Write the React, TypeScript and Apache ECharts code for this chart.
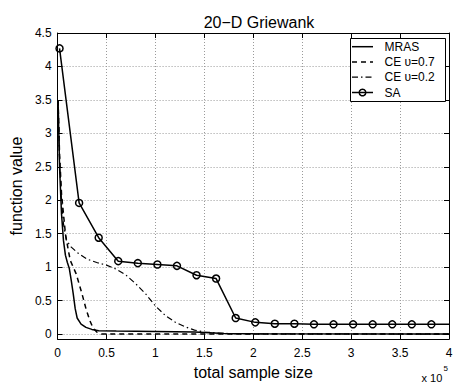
import React, { useEffect, useRef } from "react";
import * as echarts from "echarts";

// x in units of 1e5 samples
const mrasX = [0.005, 0.02, 0.04, 0.06, 0.08, 0.1, 0.12, 0.14, 0.16, 0.18, 0.2, 0.24, 0.29, 0.35, 0.42, 0.6, 1.0, 1.4, 1.7, 2.0, 4.0];
const mrasY = [3.5, 2.5, 1.8, 1.4, 1.18, 1.07, 0.98, 0.8, 0.6, 0.38, 0.24, 0.15, 0.1, 0.07, 0.05, 0.045, 0.04, 0.03, 0.01, 0.005, 0.003];

const ce07X = [0.005, 0.02, 0.04, 0.06, 0.08, 0.11, 0.13, 0.16, 0.19, 0.22, 0.25, 0.29, 0.33, 0.36, 0.4, 0.45, 1.0, 4.0];
const ce07Y = [3.5, 2.7, 2.1, 1.8, 1.5, 1.25, 1.1, 1.0, 0.9, 0.75, 0.6, 0.38, 0.2, 0.1, 0.03, 0.0, 0.0, 0.0];

const ce02X = [0.005, 0.02, 0.04, 0.06, 0.09, 0.14, 0.2, 0.3, 0.4, 0.5, 0.6, 0.7, 0.8, 0.9, 1.0, 1.1, 1.2, 1.3, 1.4, 1.5, 1.7, 2.0, 4.0];
const ce02Y = [3.5, 2.6, 2.0, 1.65, 1.4, 1.3, 1.22, 1.12, 1.07, 1.03, 0.97, 0.88, 0.75, 0.6, 0.42, 0.28, 0.18, 0.11, 0.06, 0.03, 0.01, 0.003, 0.0];

const saX = [0.02, 0.22, 0.42, 0.62, 0.82, 1.02, 1.22, 1.42, 1.62, 1.82, 2.02, 2.22, 2.42, 2.62, 2.82, 3.02, 3.22, 3.42, 3.62, 3.82, 4.0];
const saY = [4.27, 1.96, 1.44, 1.09, 1.06, 1.04, 1.02, 0.88, 0.83, 0.24, 0.175, 0.155, 0.155, 0.146, 0.146, 0.146, 0.146, 0.146, 0.146, 0.146, 0.146];

const yTicks = [0, 0.5, 1, 1.5, 2, 2.5, 3, 3.5, 4, 4.5];
const seriesNames = ["MRAS", "CE \u03c5=0.7", "CE \u03c5=0.2", "SA"];

const FONT = "Liberation Sans, Arial, Helvetica, sans-serif";

const DASH_SOLID: number[] | null = null;
const DASH_CE07 = [5, 4];
const DASH_CE02 = [6, 3, 1.5, 3];
const lineDashes = [DASH_SOLID, DASH_CE07, DASH_CE02, DASH_SOLID];

function zip(xs: number[], ys: number[]) {
  return xs.map((x, i) => [x, ys[i]]);
}

export default function App() {
  const ref = useRef<HTMLDivElement>(null);
  useEffect(() => {
    if (!ref.current) return;
    const chart = echarts.init(ref.current, undefined, { renderer: "svg" });
    const gridLine = { show: true, lineStyle: { color: "#9a9a9a", type: [1, 2], width: 1 } };
    const axisLine = { show: true, onZero: false, lineStyle: { color: "#000", width: 1 } };
    const tick = { show: true, inside: true, length: 5, lineStyle: { color: "#000" } };
    const saData = zip(saX, saY).map((p, i) =>
      i === saX.length - 1 ? { value: p, symbol: "none" } : { value: p }
    );

    // legend drawn as graphic elements
    const legendRows = [46.7, 61.9, 77.2, 92.5];
    const legendEls: any[] = [
      {
        type: "rect",
        shape: { x: 350.5, y: 38.5, width: 95, height: 63 },
        style: { fill: "#fff", stroke: "#000", lineWidth: 1 },
        z: 5,
      },
    ];
    seriesNames.forEach((name, i) => {
      const y = legendRows[i];
      legendEls.push({
        type: "line",
        shape: { x1: 352, y1: y, x2: 373, y2: y },
        style: {
          stroke: "#000",
          lineWidth: i === 2 ? 1.2 : 1.5,
          lineDash: lineDashes[i] || undefined,
        },
        z: 6,
      });
      if (i === 3) {
        legendEls.push({
          type: "circle",
          shape: { cx: 362.5, cy: y, r: 3.3 },
          style: { fill: "none", stroke: "#000", lineWidth: 1.5 },
          z: 7,
        });
      }
      legendEls.push({
        type: "text",
        x: 384.5,
        y,
        style: {
          text: name,
          fontSize: 12,
          fontFamily: FONT,
          fill: "#000",
          verticalAlign: "middle",
          align: "left",
        },
        z: 7,
      });
    });

    chart.setOption({
      animation: false,
      backgroundColor: "#fff",
      textStyle: { fontFamily: FONT },
      title: {
        text: "20\u2212D Griewank",
        left: 254,
        textAlign: "center",
        top: 9,
        textStyle: { fontFamily: FONT, fontSize: 16, fontWeight: "normal", color: "#000" },
      },
      grid: { left: 51, top: 33, width: 398, height: 313.5, containLabel: false },
      xAxis: [
        {
          type: "value",
          min: 0,
          max: 4,
          interval: 0.5,
          position: "bottom",
          axisLine,
          axisTick: tick,
          axisLabel: { color: "#000", fontSize: 12, fontFamily: FONT, margin: 8 },
          splitLine: gridLine,
          name: "total sample size",
          nameLocation: "middle",
          nameGap: 18,
          nameTextStyle: { color: "#000", fontSize: 16, fontFamily: FONT },
        },
        {
          type: "value",
          min: 0,
          max: 4,
          interval: 0.5,
          position: "top",
          axisLine,
          axisTick: tick,
          axisLabel: { show: false },
          splitLine: { show: false },
        },
      ],
      yAxis: [
        {
          type: "value",
          min: -0.075,
          max: 4.5,
          position: "left",
          axisLine,
          axisTick: { ...tick, customValues: yTicks },
          axisLabel: { color: "#000", fontSize: 12, fontFamily: FONT, margin: 6, customValues: yTicks },
          splitLine: gridLine,
          name: "function value",
          nameLocation: "middle",
          nameGap: 27,
          nameTextStyle: { color: "#000", fontSize: 16, fontFamily: FONT },
        },
        {
          type: "value",
          min: -0.075,
          max: 4.5,
          position: "right",
          axisLine,
          axisTick: { ...tick, customValues: yTicks },
          axisLabel: { show: false },
          splitLine: { show: false },
        },
      ],
      graphic: [
        ...legendEls,
        {
          type: "text",
          x: 421.5,
          y: 372,
          style: { text: "x 10", fontSize: 11, fontFamily: FONT, fill: "#000" },
          z: 10,
        },
        {
          type: "text",
          x: 443.5,
          y: 364,
          style: { text: "5", fontSize: 8, fontFamily: FONT, fill: "#000" },
          z: 10,
        },
      ],
      series: [
        {
          name: seriesNames[0],
          type: "line",
          data: zip(mrasX, mrasY),
          showSymbol: false,
          symbol: "none",
          lineStyle: { color: "#000", width: 1.5, type: "solid" },
          itemStyle: { color: "#000" },
        },
        {
          name: seriesNames[1],
          type: "line",
          data: zip(ce07X, ce07Y),
          showSymbol: false,
          symbol: "none",
          lineStyle: { color: "#000", width: 1.5, type: DASH_CE07 },
          itemStyle: { color: "#000" },
        },
        {
          name: seriesNames[2],
          type: "line",
          data: zip(ce02X, ce02Y),
          showSymbol: false,
          symbol: "none",
          lineStyle: { color: "#000", width: 1.2, type: DASH_CE02 },
          itemStyle: { color: "#000" },
        },
        {
          name: seriesNames[3],
          type: "line",
          data: saData,
          symbol: "circle",
          symbolSize: 7,
          showSymbol: true,
          lineStyle: { color: "#000", width: 1.5 },
          itemStyle: { color: "rgba(255,255,255,0)", borderColor: "#000", borderWidth: 1.5 },
        },
      ],
    });
    return () => chart.dispose();
  }, []);
  return (
    <div
      ref={ref}
      style={{ position: "fixed", left: 0, top: 0, width: 456, height: 385, background: "#fff" }}
    />
  );
}
